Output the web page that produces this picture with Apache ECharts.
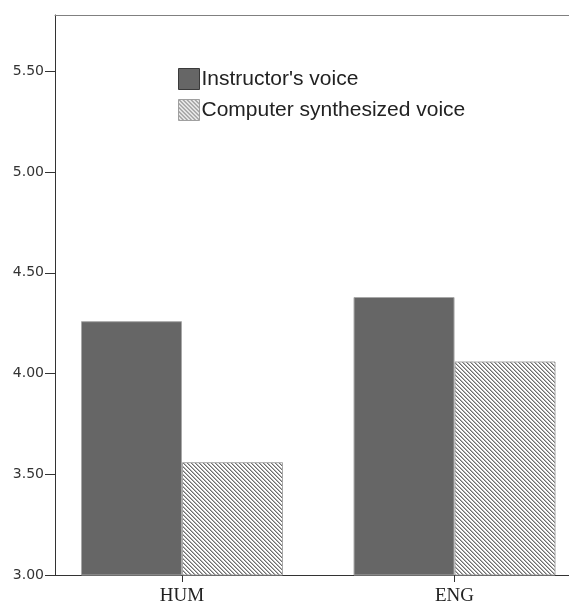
<!DOCTYPE html>
<html>
<head>
<meta charset="utf-8">
<script src="https://cdn.jsdelivr.net/npm/echarts@6/dist/echarts.min.js"></script>
<style>
  html, body { margin: 0; padding: 0; background: #fff; }
  #chart { width: 569px; height: 606px; }
</style>
</head>
<body>
<div id="chart"></div>
<script>
// data
var categories = ['HUM', 'ENG'];
var seriesNames = ["Instructor's voice", 'Computer synthesized voice'];
var instructorVoice = [4.26, 4.38];
var computerVoice = [3.56, 4.06];
var yTicks = [3.0, 3.5, 4.0, 4.5, 5.0, 5.5];

// hatch pattern for the synthesized voice bars
function makeHatch() {
  var c = document.createElement('canvas');
  c.width = 4;
  c.height = 4;
  var ctx = c.getContext('2d');
  ctx.fillStyle = '#ffffff';
  ctx.fillRect(0, 0, 4, 4);
  for (var i = 0; i < 4; i++) {
    ctx.fillStyle = '#6e6e6e';
    ctx.fillRect(i, i, 1, 1);
    ctx.fillStyle = '#b4b4b4';
    ctx.fillRect((i + 1) % 4, i, 1, 1);
  }
  return c;
}
var hatch = { image: makeHatch(), repeat: 'repeat' };

// categories sit at x = 1, 2 on a value axis so they can be placed off-centre like the original
function toPoints(vals) {
  return vals.map(function (v, i) { return [i + 1, v]; });
}

var chart = echarts.init(document.getElementById('chart'), null, { renderer: 'canvas' });

var options = {
  animation: false,
  grid: {
    left: 55,
    right: -3,
    top: 15,
    bottom: 30
  },
  legend: {
    orient: 'vertical',
    icon: 'rect',
    left: 173,
    top: 63,
    itemWidth: 21,
    itemHeight: 21,
    itemGap: 9,
    textStyle: {
      fontFamily: 'Liberation Sans',
      fontSize: 21,
      color: '#222',
      padding: [0, 0, 0, -3]
    },
    data: [
      { name: seriesNames[0], itemStyle: { color: '#666666', borderColor: '#3a3a3a', borderWidth: 1 } },
      { name: seriesNames[1], itemStyle: { color: hatch, borderColor: '#a0a0a0', borderWidth: 1 } }
    ]
  },
  xAxis: [
    {
      type: 'value',
      min: 0.534,
      max: 2.42,
      splitLine: { show: false },
      axisLine: { show: true, lineStyle: { color: '#333', width: 1 } },
      axisTick: {
        show: true,
        customValues: [1, 2],
        length: 7,
        lineStyle: { color: '#333' }
      },
      axisLabel: {
        customValues: [1, 2],
        margin: 12,
        fontFamily: 'Liberation Serif',
        fontSize: 19,
        color: '#222',
        formatter: function (v) { return categories[Math.round(v) - 1] || ''; }
      }
    },
    {
      // top frame line only
      type: 'value',
      position: 'top',
      min: 0.534,
      max: 2.42,
      axisLine: { show: true, onZero: false, lineStyle: { color: '#808080', width: 1 } },
      axisTick: { show: false },
      axisLabel: { show: false },
      splitLine: { show: false }
    }
  ],
  yAxis: {
    type: 'value',
    min: 3,
    max: 5.78,
    interval: 0.5,
    splitLine: { show: false },
    axisLine: { show: true, lineStyle: { color: '#333', width: 1 } },
    axisTick: {
      show: true,
      customValues: yTicks,
      length: 10,
      lineStyle: { color: '#333' }
    },
    axisLabel: {
      customValues: yTicks,
      margin: 11,
      fontFamily: 'DejaVu Sans',
      fontSize: 14,
      color: '#333',
      formatter: function (v) { return v.toFixed(2); }
    }
  },
  series: [
    {
      name: seriesNames[0],
      type: 'bar',
      barWidth: 101,
      barGap: '0%',
      data: toPoints(instructorVoice),
      itemStyle: { color: '#666666', borderColor: '#a8a8a8', borderWidth: 1 }
    },
    {
      name: seriesNames[1],
      type: 'bar',
      barWidth: 101,
      barGap: '0%',
      data: toPoints(computerVoice),
      itemStyle: { color: hatch, borderColor: '#a8a8a8', borderWidth: 1 }
    }
  ]
};

chart.setOption(options);
</script>
</body>
</html>
